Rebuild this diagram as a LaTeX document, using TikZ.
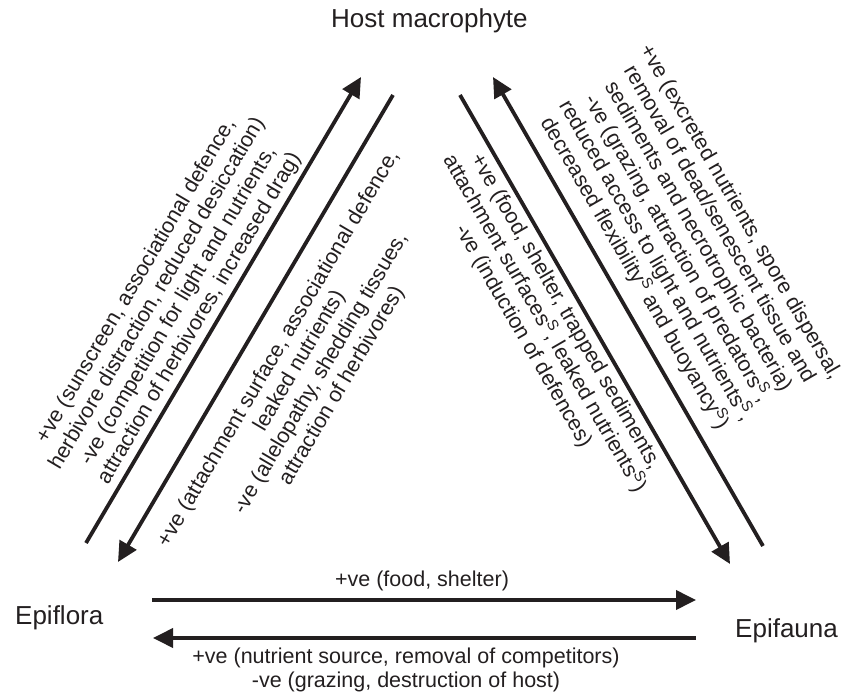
\documentclass[tikz,border=0pt]{standalone}
\usepackage{fontspec}
\setmainfont{Liberation Sans}
\usetikzlibrary{arrows.meta}
\definecolor{ink}{HTML}{231F20}
\begin{document}
\begin{tikzpicture}[x=1pt,y=-1pt,
  link/.style={line width=3.8pt, draw=ink},
  tipped/.style={link, -{Triangle[length=20pt,width=19pt]}},
  party/.style={font=\fontsize{26}{30}\selectfont, text=ink, inner sep=0pt},
  effect/.style={font=\fontsize{21.5}{24.5}\selectfont, text=ink, align=center, inner sep=0pt}]
\useasboundingbox (0,0) rectangle (847,693);

% the three partners
\node[party, anchor=base west] (host) at (331,28) {Host macrophyte};
\node[party, anchor=base west] (flora) at (15,624) {Epiflora};
\node[party, anchor=base west] (fauna) at (735,637) {Epifauna};

% ends of the connectors
\coordinate (fh0) at (86,543);   \coordinate (fh1) at (361,77);
\coordinate (hf0) at (393,95);   \coordinate (hf1) at (118,562);
\coordinate (ha0) at (460,95);   \coordinate (ha1) at (730,564);
\coordinate (ah0) at (763,546);  \coordinate (ah1) at (493,77);
\coordinate (fa0) at (152,600);  \coordinate (fa1) at (696,600);
\coordinate (af0) at (696,638);  \coordinate (af1) at (153,638);

\draw[tipped] (fh0) -- (fh1);
\draw[tipped] (hf0) -- (hf1);
\draw[tipped] (ha0) -- (ha1);
\draw[tipped] (ah0) -- (ah1);
\draw[tipped] (fa0) -- (fa1);
\draw[tipped] (af0) -- (af1);

% effects along each connector
\node[effect, rotate=59.5] (fhtext) at (168,300)
  {+ve (sunscreen, associational defence,\\
   herbivore distraction, reduced desiccation)\\
   -ve (competition for light and nutrients,\\
   attraction of herbivores, increased drag)};
\node[effect, rotate=59.5] (hftext) at (310.5,367.5)
  {+ve (attachment surface, associational defence,\\
   leaked nutrients)\\
   -ve (allelopathy, shedding tissues,\\
   attraction of herbivores)};
\node[effect, rotate=-60] (ahtext) at (687,243)
  {+ve (excreted nutrients, spore dispersal,\\
   removal of dead/senescent tissue and\\
   sediments and necrotrophic bacteria)\\
   -ve (grazing, attraction of predators\textsuperscript{S},\\
   reduced access to light and nutrients\textsuperscript{S},\\
   decreased flexibility\textsuperscript{S} and buoyancy\textsuperscript{S})};
\node[effect, rotate=-60] (hatext) at (544,324)
  {+ve (food, shelter, trapped sediments,\\
   attachment surfaces\textsuperscript{S}, leaked nutrients\textsuperscript{S})\\
   -ve (induction of defences)};
\node[effect] (fatext) at (422,581) {+ve (food, shelter)};
\node[effect] (aftext) at (406,670)
  {+ve (nutrient source, removal of competitors)\\
   -ve (grazing, destruction of host)};
\end{tikzpicture}
\end{document}
